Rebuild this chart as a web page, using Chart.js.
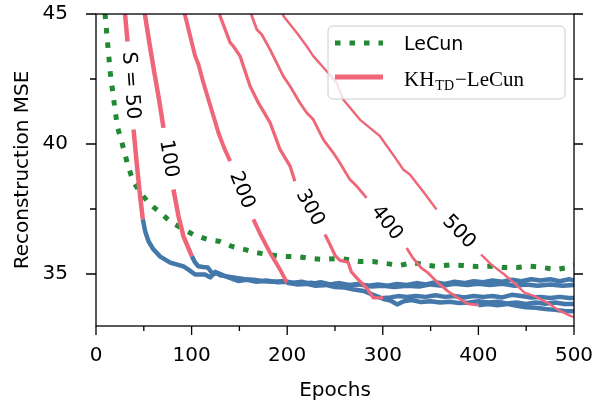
<!DOCTYPE html>
<html>
<head>
<meta charset="utf-8">
<script src="https://cdn.jsdelivr.net/npm/chart.js@4.4.1/dist/chart.umd.min.js"></script>
<style>
  html, body { margin: 0; padding: 0; background: #fff; }
</style>
</head>
<body>
<canvas id="chart" width="596" height="403"></canvas>
<script>
// axis ticks
const xTicks = [0, 100, 200, 300, 400, 500];
const xMinor = [50, 150, 250, 350, 450];
const yTicks = [35, 40, 45];
const yMinor = [37.5, 42.5];

// LeCun baseline (green dotted)
const lecunEpochs = [4, 9.7, 12.1, 14.9, 18.1, 22.3, 27.5, 33.7, 39, 46.3, 56.7, 67.2, 77.6, 90, 101.6, 116.3, 129.8, 142.4, 156, 166.4, 180, 194.6, 211.3, 223, 236.4, 255.2, 276, 289.7, 304, 317.9, 331.5, 344, 356.5, 370, 382.6, 398.3, 412, 425.5, 440, 454, 467.3, 481.9, 493.4, 500];
const lecunMse = [47.8, 44.9, 43.9, 42.75, 41.83, 40.67, 40.0, 39.13, 38.56, 38.13, 37.67, 37.37, 37.02, 36.75, 36.52, 36.33, 36.25, 36.06, 35.94, 35.83, 35.75, 35.67, 35.67, 35.6, 35.56, 35.6, 35.48, 35.48, 35.4, 35.33, 35.44, 35.35, 35.29, 35.35, 35.33, 35.29, 35.3, 35.25, 35.25, 35.3, 35.25, 35.17, 35.25, 35.33];

// KH_TD pretraining phase (pink), null = gap where the S label sits
const khEpochs50 = [27, 30.6, 33, 36, 39.3, 42.5, 45.5, 49];
const khMse50 = [47, 44.9, 43.94, null, 40.56, 39.3, 38.2, 37.1];
const khEpochs100 = [48, 51.5, 56, 61, 66, 70.6, 76, 81, 86.3, 91.5, 100.3];
const khMse100 = [46.2, 44.9, 43.85, 42.75, 41.7, 40.62, null, 38.25, 37.22, 36.45, 35.68];
const khEpochs200 = [90, 93.3, 98.5, 103.7, 107.2, 112.4, 117.6, 122.9, 128.1, 133.3, 140.3, 152, 164.6, 173, 182, 192.5, 200];
const khMse200 = [46.1, 44.92, 44.15, 43.38, 43.06, 42.35, 41.71, 41.07, 40.43, 39.92, 39.34, null, 37.1, 36.45, 35.82, 35.17, 34.66];
const khEpochs300 = [127, 129.8, 140.3, 143.7, 150.7, 161.2, 169.9, 182.1, 192.5, 203, 208, 224, 239.5, 244.8, 250, 255.2, 263.6, 267.1, 276, 283, 290, 300.4];
const khMse300 = [46.1, 44.92, 43.9, 43.76, 43.38, 42.22, 41.58, 40.82, 39.79, 39.15, 38.57, null, 36.52, 36.13, 35.72, 35.52, 35.46, 35.08, 34.72, 34.47, 34.08, 34.08];
const khEpochs400 = [160, 163, 168.2, 173.4, 182.1, 189, 196, 203, 213.4, 220.4, 227.3, 237.8, 248.2, 255.2, 265.6, 272.6, 283, 304, 325, 331.4, 340.1, 347.1, 357.6, 368, 378.5, 389, 400];
const khMse400 = [45.9, 44.92, 44.4, 44.21, 43.63, 43.12, 42.6, 42.22, 41.58, 41.2, 40.94, 40.17, 39.66, 39.27, 38.63, 38.38, 37.93, null, 36.0, 35.62, 35.24, 35.05, 34.66, 34.34, 34.08, 33.85, 33.8];
const khEpochs500 = [193, 196, 210, 220.4, 227.3, 241.3, 251.8, 258.6, 276, 297, 314.4, 321.3, 328.3, 342, 356.2, 380, 402.8, 413.3, 427.2, 441.1, 448.1, 458.6, 472.5, 482.9, 496.8, 500];
const khMse500 = [45.9, 44.92, 44.28, 43.76, 43.38, 42.8, 42.35, 41.71, 40.94, 40.3, 39.4, 39.02, 38.83, 38.18, 37.48, null, 35.75, 35.37, 34.98, 34.53, 34.28, 34.15, 33.89, 33.63, 33.38, 33.35];

// fine-tuning phase after switching (blue)
const ftEpochs50 = [49, 51.5, 55, 60.2, 67.2, 77.6, 91.5, 96.7, 103.7, 114, 119.4, 124.6, 130, 138.5, 147, 156, 165, 175, 185, 195, 205, 215, 225, 235, 245, 255, 265, 275, 285, 295, 305, 315, 325, 335, 345, 355, 365, 375, 385, 395, 405, 415, 425, 435, 445, 455, 465, 475, 485, 495, 500];
const ftMse50 = [37.1, 36.63, 36.25, 35.94, 35.67, 35.44, 35.29, 35.17, 34.98, 34.98, 34.87, 35.08, 34.95, 34.9, 34.85, 34.8, 34.78, 34.72, 34.7, 34.72, 34.65, 34.7, 34.62, 34.68, 34.6, 34.65, 34.58, 34.62, 34.55, 34.6, 34.55, 34.62, 34.58, 34.65, 34.6, 34.68, 34.62, 34.7, 34.65, 34.72, 34.68, 34.75, 34.7, 34.78, 34.72, 34.8, 34.75, 34.8, 34.72, 34.8, 34.75];
const ftEpochs100 = [100.3, 103.5, 107, 112, 117, 122.5, 127, 133, 140, 148.6, 158, 168, 178, 190, 200, 212, 225, 238, 250, 262, 275, 288, 300, 312, 325, 338, 350, 362, 375, 388, 400, 412, 425, 438, 450, 462, 475, 488, 500];
const ftMse100 = [35.68, 35.45, 35.3, 35.27, 35.25, 34.98, 35.05, 34.95, 34.85, 34.73, 34.78, 34.7, 34.75, 34.68, 34.7, 34.62, 34.66, 34.58, 34.62, 34.55, 34.6, 34.52, 34.55, 34.5, 34.55, 34.52, 34.6, 34.55, 34.62, 34.58, 34.62, 34.58, 34.62, 34.55, 34.6, 34.55, 34.6, 34.55, 34.58];
const ftEpochs200 = [200, 210, 220, 230, 240, 250, 260, 270, 280, 290, 300, 308, 315, 322, 330, 340, 350, 360, 370, 380, 390, 400, 410, 420, 430, 440, 450, 460, 470, 480, 490, 500];
const ftMse200 = [34.66, 34.6, 34.62, 34.55, 34.58, 34.5, 34.48, 34.4, 34.35, 34.2, 34.05, 33.98, 33.83, 33.95, 34.0, 33.92, 33.95, 33.9, 33.93, 33.88, 33.9, 33.95, 33.9, 33.93, 33.87, 33.9, 33.85, 33.9, 33.86, 33.9, 33.85, 33.85];
const ftEpochs300 = [300.4, 308, 316, 325, 335, 345, 355, 365, 375, 385, 395, 405, 415, 425, 435, 445, 455, 465, 475, 485, 495, 500];
const ftMse300 = [34.08, 34.1, 34.15, 34.12, 34.15, 34.12, 34.18, 34.12, 34.15, 34.1, 34.15, 34.12, 34.15, 34.1, 34.2, 34.15, 34.1, 34.12, 34.08, 34.12, 34.08, 34.08];
const ftEpochs400 = [400, 410, 420, 430, 440, 450, 460, 470, 480, 490, 500];
const ftMse400 = [33.8, 33.85, 33.8, 33.85, 33.78, 33.72, 33.7, 33.65, 33.62, 33.58, 33.57];

const sLabels = ['S = 50', '100', '200', '300', '400', '500'];

const GREEN = '#228833', PINK = '#EE6677', BLUE = '#4477AA';
const FONT = '"DejaVu Sans", sans-serif';

function pts(xs, ys) {
  return xs.map((x, i) => ({ x: x, y: ys[i] }));
}

function lineSet(data, color, width, extra) {
  return Object.assign({
    data: data,
    borderColor: color,
    borderWidth: width,
    pointRadius: 0,
    tension: 0,
    fill: false,
    clip: 0,
    borderJoinStyle: 'round',
    spanGaps: false
  }, extra || {});
}

// drawing order: green first, then for each S pink then blue
const khSets = [
  [khEpochs50, khMse50, ftEpochs50, ftMse50, 4.5],
  [khEpochs100, khMse100, ftEpochs100, ftMse100, 4.5],
  [khEpochs200, khMse200, ftEpochs200, ftMse200, 4],
  [khEpochs300, khMse300, ftEpochs300, ftMse300, 3.3],
  [khEpochs400, khMse400, ftEpochs400, ftMse400, 2.8],
  [khEpochs500, khMse500, null, null, 2.4]
];

const drawList = [lineSet(pts(lecunEpochs, lecunMse), GREEN, 5, { borderDash: [5.5, 9] })];
const pinkIndex = [];
khSets.forEach(s => {
  pinkIndex.push(drawList.length);
  drawList.push(lineSet(pts(s[0], s[1]), PINK, s[4]));
  if (s[2]) drawList.push(lineSet(pts(s[2], s[3]), BLUE, 4.5));
});
// chart.js draws lower order on top
drawList.forEach((d, i) => { d.order = drawList.length - i; });

const decor = {
  id: 'decor',
  afterDatasetsDraw(chart) {
    const ctx = chart.ctx, a = chart.chartArea;
    const xs = chart.scales.x, ys = chart.scales.y;
    ctx.save();

    // inline S labels in the gaps of the pink lines
    ctx.fillStyle = '#000';
    ctx.font = '20px ' + FONT;
    ctx.textAlign = 'center';
    ctx.textBaseline = 'middle';
    pinkIndex.forEach((di, i) => {
      const d = chart.data.datasets[di].data;
      const k = d.findIndex(p => p.y === null);
      const p0 = d[k - 1], p1 = d[k + 1];
      const x0 = xs.getPixelForValue(p0.x), y0 = ys.getPixelForValue(p0.y);
      const x1 = xs.getPixelForValue(p1.x), y1 = ys.getPixelForValue(p1.y);
      ctx.save();
      ctx.translate((x0 + x1) / 2, (y0 + y1) / 2);
      ctx.rotate(Math.atan2(y1 - y0, x1 - x0));
      ctx.fillText(sLabels[i], 0, 0);
      ctx.restore();
    });

    // spines and tick marks
    ctx.strokeStyle = '#000';
    ctx.lineWidth = 1.3;
    ctx.strokeRect(a.left, a.top, a.right - a.left, a.bottom - a.top);
    ctx.beginPath();
    yTicks.forEach(v => {
      const p = ys.getPixelForValue(v);
      ctx.moveTo(a.left - 10, p); ctx.lineTo(a.left, p);
      ctx.moveTo(a.right, p); ctx.lineTo(a.right + 9, p);
    });
    yMinor.forEach(v => {
      const p = ys.getPixelForValue(v);
      ctx.moveTo(a.left - 6, p); ctx.lineTo(a.left, p);
      ctx.moveTo(a.right, p); ctx.lineTo(a.right + 9, p);
    });
    xTicks.forEach(v => {
      const p = xs.getPixelForValue(v);
      ctx.moveTo(p, a.bottom); ctx.lineTo(p, a.bottom + 9);
    });
    xMinor.forEach(v => {
      const p = xs.getPixelForValue(v);
      ctx.moveTo(p, a.bottom); ctx.lineTo(p, a.bottom + 5);
    });
    ctx.stroke();

    // legend box (upper right, inside the axes)
    const bx = a.right - 246, by = a.top + 12, bw = 237, bh = 73;
    ctx.beginPath();
    ctx.roundRect(bx, by, bw, bh, 5);
    ctx.fillStyle = 'rgba(255,255,255,0.8)';
    ctx.fill();
    ctx.strokeStyle = '#cccccc';
    ctx.lineWidth = 1;
    ctx.stroke();

    const sx = bx + 7, ex = bx + 55, tx = bx + 76;
    ctx.lineWidth = 5;
    ctx.strokeStyle = GREEN;
    ctx.setLineDash([5.5, 9]);
    ctx.beginPath(); ctx.moveTo(sx, by + 17); ctx.lineTo(ex, by + 17); ctx.stroke();
    ctx.setLineDash([]);
    ctx.strokeStyle = PINK;
    ctx.beginPath(); ctx.moveTo(sx, by + 51); ctx.lineTo(ex, by + 51); ctx.stroke();

    ctx.fillStyle = '#000';
    ctx.textAlign = 'left';
    ctx.textBaseline = 'alphabetic';
    ctx.font = '19px ' + FONT;
    ctx.fillText('LeCun', tx, by + 24);
    ctx.font = '21px "Liberation Serif", serif';
    ctx.fillText('KH', tx, by + 60);
    let w = ctx.measureText('KH').width;
    ctx.font = '14px "Liberation Serif", serif';
    ctx.fillText('TD', tx + w + 1, by + 64);
    w += ctx.measureText('TD').width + 2;
    ctx.font = '21px "Liberation Serif", serif';
    ctx.fillText('\u2212LeCun', tx + w, by + 60);
    ctx.restore();
  }
};

new Chart(document.getElementById('chart'), {
  type: 'line',
  data: { datasets: drawList },
  options: {
    responsive: false,
    animation: false,
    events: [],
    layout: { padding: { top: 14, right: 22, left: 0, bottom: 0 } },
    plugins: { legend: { display: false }, tooltip: { enabled: false } },
    scales: {
      x: {
        type: 'linear',
        min: 0, max: 500,
        afterBuildTicks: s => { s.ticks = xTicks.map(v => ({ value: v })); },
        afterFit: s => { s.height = 77; s.paddingLeft = 0; s.paddingRight = 0; },
        grid: { display: false, drawTicks: true, tickLength: 10 },
        border: { display: false },
        ticks: { color: '#000', font: { family: FONT, size: 20 }, padding: 8, maxRotation: 0 },
        title: { display: true, text: 'Epochs', color: '#000', font: { family: FONT, size: 20 }, padding: { top: 0, bottom: 0 } }
      },
      y: {
        type: 'linear',
        min: 33, max: 45,
        afterBuildTicks: s => { s.ticks = yTicks.map(v => ({ value: v })); },
        afterFit: s => { s.width = 96; s.paddingTop = 0; s.paddingBottom = 0; },
        grid: { display: false, drawTicks: true, tickLength: 10 },
        border: { display: false },
        ticks: { color: '#000', font: { family: FONT, size: 20 }, padding: 18 },
        title: { display: true, text: 'Reconstruction MSE', color: '#000', font: { family: FONT, size: 20 }, padding: { top: 11, bottom: 0 } }
      }
    }
  },
  plugins: [decor]
});
</script>
</body>
</html>
